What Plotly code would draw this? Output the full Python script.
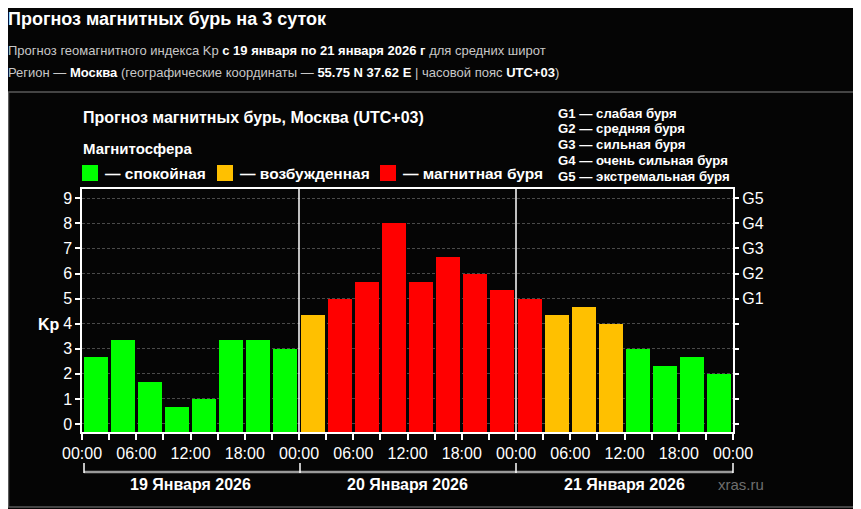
import plotly.graph_objects as go

# Kp forecast, 3-hour intervals, 19-21 Jan 2026 (Moscow, UTC+03)
kp_day1 = [2.67, 3.33, 1.67, 0.67, 1.00, 3.33, 3.33, 3.00]
kp_day2 = [4.33, 5.00, 5.67, 8.00, 5.67, 6.67, 6.00, 5.33]
kp_day3 = [5.00, 4.33, 4.67, 4.00, 3.00, 2.33, 2.67, 2.00]
kp = kp_day1 + kp_day2 + kp_day3

hours = [1.5 + 3 * i for i in range(len(kp))]          # bar centres, hours from start
tick_hours = list(range(0, 73, 3))
tick_text = ["%02d:00" % (h % 24) if h % 6 == 0 else "" for h in tick_hours]
day_labels = ["19 Января 2026", "20 Января 2026", "21 Января 2026"]
g_levels = ["G1", "G2", "G3", "G4", "G5"]
g_legend = ["G1 — слабая буря", "G2 — средняя буря", "G3 — сильная буря",
            "G4 — очень сильная буря", "G5 — экстремальная буря"]
state_names = ["— спокойная", "— возбужденная", "— магнитная буря"]

GREEN, ORANGE, RED = "#00ff00", "#ffc000", "#ff0000"
FONT = "Liberation Sans"

def kp_color(v):
    if v >= 5:
        return RED
    if v >= 4:
        return ORANGE
    return GREEN

# plot area in page pixels; the page body has an 8px margin
OFF = 8
L, R, T, B = 82, 733, 189, 432
W, H = 861 - OFF, 509 - OFF
YMIN, YMAX = -0.32, 9.37

def px(x):   # page pixel x -> paper
    return (x - L) / (R - L)

def py(y):   # page pixel y -> paper
    return (B - y) / (B - T)

def text(x, y, s, size, color="white", anchor="left"):
    return dict(x=px(x), y=py(y), xref="paper", yref="paper", text=s,
                xanchor=anchor, yanchor="middle", showarrow=False,
                font=dict(size=size, color=color, family=FONT))

fig = go.Figure()
fig.add_trace(go.Bar(
    x=hours, y=[v - YMIN for v in kp], base=YMIN, width=2.65,
    marker=dict(color=[kp_color(v) for v in kp], line=dict(width=0)),
    hoverinfo="skip", showlegend=False,
))
# invisible trace for the right (G) axis
fig.add_trace(go.Scatter(x=[0], y=[0], yaxis="y2", mode="markers",
                         marker=dict(opacity=0), showlegend=False, hoverinfo="skip"))

shapes = []
ann = []

# day separators
for d in (24, 48):
    shapes.append(dict(type="line", xref="x", yref="paper", x0=d, x1=d, y0=0, y1=1,
                       line=dict(color="white", width=1.5)))
# outer frame of the chart block
shapes.append(dict(type="rect", xref="paper", yref="paper",
                   x0=px(8.5), x1=px(855), y0=py(92), y1=py(507),
                   line=dict(color="#5a5a5a", width=1.5)))
# day bracket under the axis
shapes.append(dict(type="line", xref="paper", yref="paper",
                   x0=px(84), x1=px(733), y0=py(472), y1=py(472),
                   line=dict(color="#9a9a9a", width=2.5)))
for xb in (84, 300, 516, 733):
    shapes.append(dict(type="line", xref="paper", yref="paper",
                       x0=px(xb), x1=px(xb), y0=py(463), y1=py(473),
                       line=dict(color="white", width=1.5)))

for i, lab in enumerate(day_labels):
    ann.append(dict(x=12 + 24 * i, xref="x", y=py(484), yref="paper", text="<b>%s</b>" % lab,
                    xanchor="center", yanchor="middle", showarrow=False,
                    font=dict(size=16, color="white", family=FONT)))
ann.append(text(741, 484, "xras.ru", 15, "#6e6e6e", "center"))

# header
ann.append(text(6, 19, "<b>Прогноз магнитных бурь на 3 суток</b>", 18))
ann.append(text(6, 50, "Прогноз геомагнитного индекса Kp <b><span style='color:white'>"
                       "с 19 января по 21 января 2026 г</span></b> для средних широт", 13, "#c8c8c8"))
ann.append(text(6, 73, "Регион — <b><span style='color:white'>Москва</span></b> (географические координаты — "
                       "<b><span style='color:white'>55.75 N 37.62 E</span></b> | часовой пояс "
                       "<b><span style='color:white'>UTC+03</span></b>)", 13, "#c8c8c8"))

# chart title and state legend
ann.append(text(81, 117, "<b>Прогноз магнитных бурь, Москва (UTC+03)</b>", 16))
ann.append(text(81, 148, "<b>Магнитосфера</b>", 15))
for xs, col, name in zip((82, 217, 380), (GREEN, ORANGE, RED), state_names):
    shapes.append(dict(type="rect", xref="paper", yref="paper",
                       x0=px(xs), x1=px(xs + 16), y0=py(181), y1=py(165),
                       fillcolor=col, line=dict(width=0)))
    ann.append(text(xs + 21, 173, "<b>%s</b>" % name, 15.5))

for i, line in enumerate(g_legend):
    ann.append(text(556, 113 + 15.8 * i, "<b>%s</b>" % line, 13.2))

ann.append(dict(x=px(49), y=3.95, xref="paper", yref="y", text="<b>Kp</b>",
                xanchor="center", yanchor="middle", showarrow=False,
                font=dict(size=16, color="white", family=FONT)))

axis_font = dict(size=16, color="white", family=FONT)
fig.update_layout(
    width=W, height=H,
    margin=dict(l=L - OFF, r=W - (R - OFF), t=T - OFF, b=H - (B - OFF)),
    paper_bgcolor="#050505", plot_bgcolor="#050505",
    bargap=0, showlegend=False,
    shapes=shapes, annotations=ann,
    xaxis=dict(range=[0, 72], tickvals=tick_hours, ticktext=tick_text,
               ticks="outside", ticklen=6, tickcolor="white", tickwidth=1.5,
               tickfont=axis_font, showgrid=False, zeroline=False,
               showline=True, linecolor="white", linewidth=1.5, mirror=True,
               fixedrange=True),
    yaxis=dict(range=[YMIN, YMAX], tickvals=list(range(10)),
               ticks="outside", ticklen=5, tickcolor="white", tickwidth=1.5,
               tickfont=axis_font, showgrid=True, gridcolor="#4a4a4a",
               griddash="3px,2px", gridwidth=1, zeroline=False,
               showline=True, linecolor="white", linewidth=1.5, mirror=True),
    yaxis2=dict(range=[YMIN, YMAX], overlaying="y", side="right",
                tickvals=list(range(10)), ticktext=[""] * 5 + g_levels,
                ticks="outside", ticklen=5, tickcolor="white", tickwidth=1.5,
                tickfont=axis_font, showgrid=False, zeroline=False, showline=False),
)

fig.write_html("out.html")
